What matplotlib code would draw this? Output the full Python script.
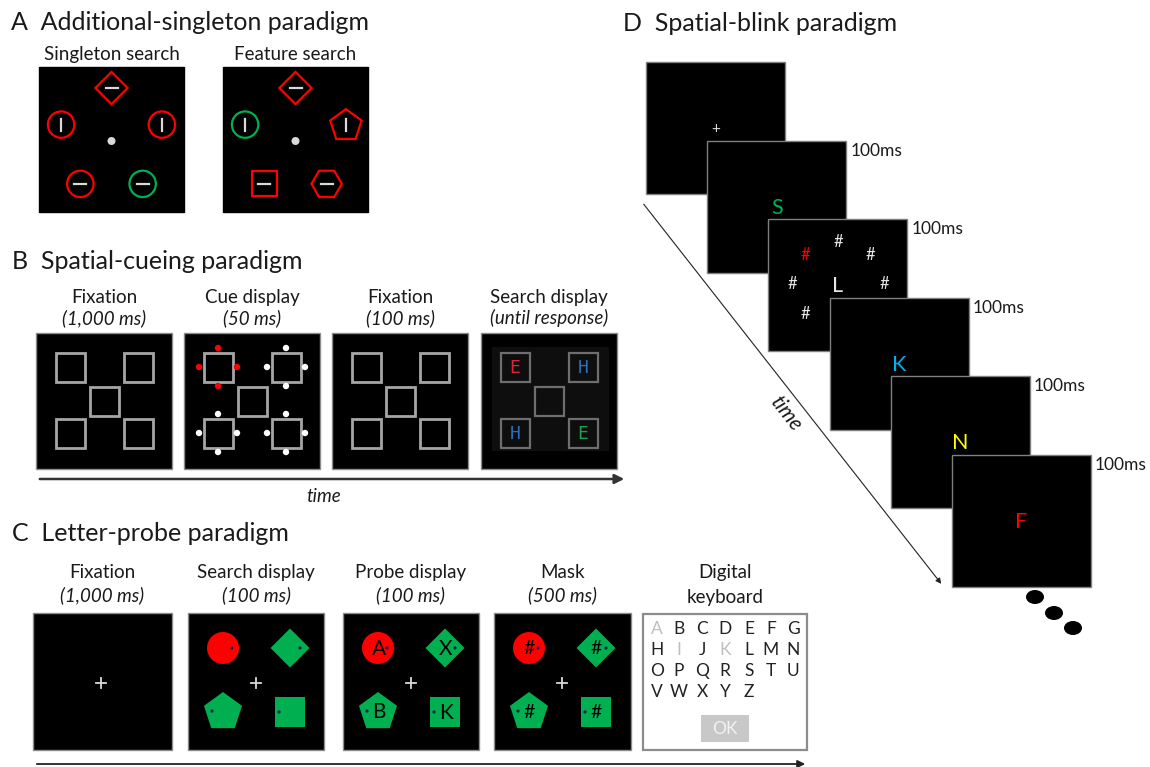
import numpy as np
import matplotlib.pyplot as plt
from matplotlib.patches import Rectangle, Circle, Polygon, Ellipse

plt.rcParams['font.family'] = ['Lato', 'DejaVu Sans']

# ---- text and content of the four panels ----
titles = ['A  Additional-singleton paradigm', 'B  Spatial-cueing paradigm',
          'C  Letter-probe paradigm', 'D  Spatial-blink paradigm']

# A: five items, clockwise from the top
a_conditions = ['Singleton search', 'Feature search']
a_shapes = [['diamond', 'circle', 'circle', 'circle', 'circle'],
            ['diamond', 'pentagon', 'hexagon', 'square', 'circle']]
a_colors = [['red', 'red', 'green', 'red', 'red'],
            ['red', 'red', 'red', 'red', 'green']]
a_lines = [['h', 'v', 'h', 'h', 'v'],
           ['h', 'v', 'h', 'h', 'v']]

# B
b_labels = ['Fixation', 'Cue display', 'Fixation', 'Search display']
b_durations = ['(1,000 ms)', '(50 ms)', '(100 ms)', '(until response)']
b_cue_colors = ['red', 'white', 'white', 'white']          # TL, TR, BL, BR
b_letters = ['E', 'H', 'H', 'E']
b_letter_colors = ['#d9263a', '#2f6fb5', '#2f6fb5', '#1f9e50']

# C
c_labels = ['Fixation', 'Search display', 'Probe display', 'Mask', 'Digital']
c_durations = ['(1,000 ms)', '(100 ms)', '(100 ms)', '(500 ms)', '']
c_shapes = ['circle', 'diamond', 'pentagon', 'square']      # TL, TR, BL, BR
c_shape_colors = ['#ff0000', '#00b050', '#00b050', '#00b050']
c_probe_letters = ['A', 'X', 'B', 'K']
c_mask_letters = ['#', '#', '#', '#']
kb_rows = ['ABCDEFG', 'HIJKLMN', 'OPQRSTU', 'VWXYZ']
kb_disabled = ['A', 'I', 'K']

# D
d_letters = ['+', 'S', 'L', 'K', 'N', 'F']
d_letter_colors = ['#d9d9d9', '#00b050', '#e6e6e6', '#00b0f0', '#ffff00', '#ff0000']
d_durations = ['', '100ms', '100ms', '100ms', '100ms', '100ms']
d_distractor_colors = ['#e6e6e6', '#ff0000', '#e6e6e6', '#e6e6e6',
                       '#e6e6e6', '#e6e6e6', '#e6e6e6', '#e6e6e6']

RED = '#ff0000'
GREEN = '#00b050'
TXT = '#1a1a1a'
LAB = 13.5

fig = plt.figure(figsize=(11.5, 7.67), dpi=100)
ax = fig.add_axes([0, 0, 1, 1])
ax.set_xlim(0, 1150)
ax.set_ylim(767, 0)
ax.axis('off')


def poly(cx, cy, n, r, start):
    a = np.radians(start + 360 / n * np.arange(n))
    return np.column_stack([cx + r * np.cos(a), cy - r * np.sin(a)])


def shape(kind, cx, cy, size, **kw):
    if kind == 'circle':
        p = Circle((cx, cy), size, **kw)
    elif kind == 'diamond':
        p = Polygon(poly(cx, cy, 4, size * 1.22, 90), **kw)
    elif kind == 'pentagon':
        p = Polygon(poly(cx, cy + 1, 5, size * 1.25, 90), **kw)
    elif kind == 'hexagon':
        p = Polygon(poly(cx, cy, 6, size * 1.15, 0), **kw)
    else:
        p = Rectangle((cx - size * 0.95, cy - size * 0.95), size * 1.9, size * 1.9, **kw)
    ax.add_patch(p)


def screen(x, y, w, h, face='black', edge='#8c8c8c', z=1):
    ax.add_patch(Rectangle((x, y), w, h, facecolor=face, edgecolor=edge, lw=1.0, zorder=z))


def title(x, y, s):
    ax.text(x, y, s, fontsize=18, color=TXT, va='baseline', ha='left')


# ---------------- A ----------------
title(11, 30, titles[0])
a_left = [39, 223]
for k in range(2):
    x0, y0, sz = a_left[k], 67, 145
    ax.text(x0 + sz / 2, 60, a_conditions[k], fontsize=LAB, color=TXT, ha='center', va='baseline')
    screen(x0, y0, sz, sz, edge='black')
    cx, cy = x0 + sz / 2, y0 + sz / 2 + 1.5
    for i in range(5):
        ang = np.radians(90 - 72 * i)
        px, py = cx + 53 * np.cos(ang), cy - 53 * np.sin(ang)
        col = RED if a_colors[k][i] == 'red' else GREEN
        shape(a_shapes[k][i], px, py, 13.2, facecolor='none', edgecolor=col, lw=1.6, zorder=3)
        if a_lines[k][i] == 'h':
            ax.plot([px - 6, px + 6], [py, py], color='#d9d9d9', lw=1.6, zorder=4)
        else:
            ax.plot([px, px], [py - 6, py + 6], color='#d9d9d9', lw=1.6, zorder=4)
    ax.add_patch(Circle((cx, cy), 4, facecolor='#d9d9d9', edgecolor='none', zorder=4))

# ---------------- B ----------------
title(12, 269, titles[1])
b_left = [36, 184, 332, 481]
offs = [(-34, -34), (34, -34), (-34, 32), (34, 32)]
for k in range(4):
    x0, y0, sz = b_left[k], 333, 136
    cx, cy = x0 + sz / 2, y0 + sz / 2
    ax.text(cx, 303, b_labels[k], fontsize=LAB, color=TXT, ha='center', va='baseline')
    ax.text(cx, 324, b_durations[k], fontsize=LAB, color=TXT, ha='center', va='baseline', style='italic')
    screen(x0, y0, sz, sz)
    sq_col, sq_lw = '#a6a6a6', 2.0
    if k == 3:
        ax.add_patch(Rectangle((x0 + 11, y0 + 14), 117, 104, facecolor='#0e0e0e', edgecolor='none', zorder=2))
        sq_col, sq_lw = '#6e6e6e', 1.6
    centers = [(cx + dx, cy + dy) for dx, dy in offs] + [(cx, cy)]
    for j, (qx, qy) in enumerate(centers):
        ax.add_patch(Rectangle((qx - 14.5, qy - 14.5), 29, 29, facecolor='none', edgecolor=sq_col,
                               lw=sq_lw, zorder=3))
        if k == 1 and j < 4:
            c = RED if b_cue_colors[j] == 'red' else 'white'
            for ddx, ddy in [(0, -19), (-19, 0), (19, 0), (0, 19)]:
                ax.add_patch(Circle((qx + ddx, qy + ddy), 3.2, facecolor=c, edgecolor='none', zorder=4))
        if k == 3 and j < 4:
            ax.text(qx, qy + 1, b_letters[j], fontsize=13, color=b_letter_colors[j], ha='center',
                    va='center', family='DejaVu Sans Mono', zorder=4)
ax.annotate('', xy=(627, 479), xytext=(37, 479),
            arrowprops=dict(arrowstyle='-|>', color='#333333', lw=1.8, mutation_scale=14))
ax.text(324, 496, 'time', fontsize=LAB, color=TXT, ha='center', va='center', style='italic')

# ---------------- C ----------------
title(12, 541, titles[2])
c_left = [33, 188, 343, 494, 643]
c_width = [139, 136, 136, 137, 164]
for k in range(5):
    x0, y0, w = c_left[k], 613, c_width[k]
    cx = x0 + w / 2
    ax.text(cx, 578, c_labels[k], fontsize=LAB, color=TXT, ha='center', va='baseline')
    if k < 4:
        ax.text(cx, 601, c_durations[k], fontsize=LAB, color=TXT, ha='center', va='baseline',
                style='italic')
        screen(x0, y0, w, 137)
        fx, fy = x0 + 68, y0 + 70
        ax.plot([fx - 5, fx + 5], [fy, fy], color='#d9d9d9', lw=1.3, zorder=3)
        ax.plot([fx, fx], [fy - 5, fy + 5], color='#d9d9d9', lw=1.3, zorder=3)
    if k in (1, 2, 3):
        pos = [(x0 + 35, y0 + 35), (x0 + 102, y0 + 35), (x0 + 35, y0 + 98), (x0 + 102, y0 + 99)]
        dot_dx = [9, 10, -11, -11]
        for j, (px, py) in enumerate(pos):
            shape(c_shapes[j], px, py, 16, facecolor=c_shape_colors[j], edgecolor='none', zorder=3)
            ax.add_patch(Circle((px + dot_dx[j], py), 1.6, facecolor='#20204a', edgecolor='none', zorder=5))
            if k == 2:
                ax.text(px + 1, py + 1, c_probe_letters[j], fontsize=15, color='black', ha='center',
                        va='center', zorder=4)
            if k == 3:
                ax.text(px, py + 1, c_mask_letters[j], fontsize=14, color='black', ha='center',
                        va='center', zorder=4)

# keyboard
kx, ky, kw, kh = 643, 614, 164, 136
ax.text(kx + kw / 2, 603, 'keyboard', fontsize=LAB, color=TXT, ha='center', va='baseline')
ax.add_patch(Rectangle((kx, ky), kw, kh, facecolor='white', edgecolor='#8c8c8c', lw=1.6, zorder=1))
col_x = [657, 679, 702, 725, 749, 771, 793]
row_y = [629, 650, 671, 692]
for r, row in enumerate(kb_rows):
    for c, ch in enumerate(row):
        colr = '#bfbfbf' if ch in kb_disabled else '#222222'
        ax.text(col_x[c], row_y[r], ch, fontsize=12.5, color=colr, ha='center', va='center', zorder=3)
ax.add_patch(Rectangle((701, 715), 48, 27, facecolor='#c8c8c8', edgecolor='none', zorder=2))
ax.text(725, 729, 'OK', fontsize=12.5, color='#f2f2f2', ha='center', va='center', zorder=3)
ax.annotate('', xy=(808, 764), xytext=(34, 764),
            arrowprops=dict(arrowstyle='-|>', color='#222222', lw=1.3, mutation_scale=11))

# ---------------- D ----------------
title(623, 31, titles[3])
fw, fh = 139, 132
for i in range(6):
    x0, y0 = 646 + i * 61.2, 62 + i * 78.6
    screen(x0, y0, fw, fh, edge='#7f7f7f', z=10 + i * 3)
    cx, cy = x0 + fw / 2, y0 + fh / 2
    fs = 11 if i == 0 else 15.5
    ax.text(cx, cy + 1, d_letters[i], fontsize=fs, color=d_letter_colors[i], ha='center', va='center',
            zorder=11 + i * 3)
    if d_durations[i]:
        ax.text(x0 + fw + 4, y0 + 10, d_durations[i], fontsize=12.5, color=TXT, ha='left', va='center',
                zorder=11 + i * 3)
    if i == 2:
        for j in range(8):
            ang = np.radians(90 + 45 * j)
            ax.text(cx + 46 * np.cos(ang), cy - 1 - 42 * np.sin(ang), '#', fontsize=12,
                    color=d_distractor_colors[j], ha='center', va='center', zorder=11 + i * 3)

ax.annotate('', xy=(943, 586), xytext=(642, 202),
            arrowprops=dict(arrowstyle='-|>', color='#222222', lw=0.8, mutation_scale=8))
ax.text(786, 413, 'time', fontsize=15, color=TXT, ha='center', va='center', style='italic',
        rotation=-52, rotation_mode='anchor')
for (ex, ey) in [(1035, 597), (1054, 613), (1073, 628)]:
    ax.add_patch(Ellipse((ex, ey), 18, 14, facecolor='black', edgecolor='none'))

fig.savefig('out.png', dpi=100)
